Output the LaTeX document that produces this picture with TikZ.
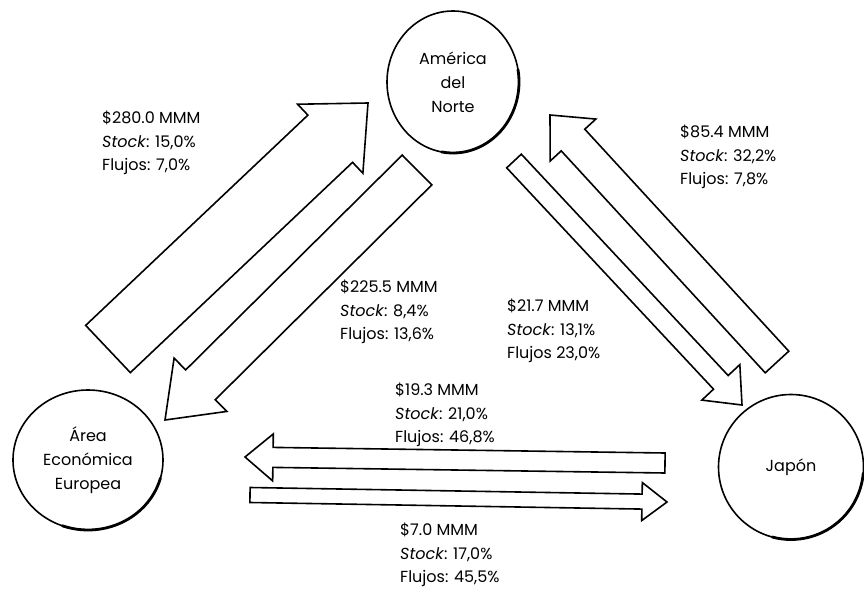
\documentclass[tikz,border=0pt]{standalone}
\usepackage{fontspec}
\setmainfont{Poppins}
\usetikzlibrary{calc, shapes.geometric}

\tikzset{
  region/.style={draw, ellipse, line width=1.6pt, inner sep=0pt, outer sep=0pt, align=center,
    font=\fontsize{16}{24}\selectfont},
  rim/.style={line width=2.8pt, line cap=round},
  flow/.style={draw, line width=1.6pt, line join=miter, fill=white},
  flowlabel/.style={anchor=north west, inner sep=0pt, align=left, font=\fontsize{16}{23.5}\selectfont}
}

% block arrow: #1 tail, #2 tip, #3 half shaft, #4 half head, #5 head length
\newcommand{\flowarrow}[5]{%
  \coordinate (#2-base) at ($(#2)!#5pt!(#1)$);
  \draw[flow] ($(#1)!#3pt!90:(#2)$) -- ($(#2-base)!#3pt!-90:(#1)$) -- ($(#2-base)!#4pt!-90:(#1)$)
    -- (#2) -- ($(#2-base)!#4pt!90:(#1)$) -- ($(#2-base)!#3pt!90:(#1)$) -- ($(#1)!#3pt!-90:(#2)$) -- cycle;
}

\begin{document}
\begin{tikzpicture}[x=1pt, y=-1pt]
\useasboundingbox (0,0) rectangle (864,591);
% Draw the three regions
\node[region, minimum width=132pt, minimum height=142pt] at (453,82) (na) {Am\'erica\\del\\Norte};
\node[region, minimum width=150pt, minimum height=140pt] at (88,460) (eu) {\'Area\\Econ\'omica\\Europea};
\node[region, minimum width=145pt, minimum height=145pt] at (791,467) (jp) {Jap\'on};
% Draw the heavy lower rims (y points down, so angles run clockwise)
\foreach \r/\rx/\ry/\a/\b in {na/66/71/100/-10, eu/75/70/110/15, jp/72.5/72.5/105/5} {
  \draw[rim] ($(\r.center)+({\a}:{\rx} and {\ry})$) arc[start angle=\a, end angle=\b, x radius=\rx, y radius=\ry];
}
% Ends of the flows (s = start, t = tip)
\coordinate (eu-na-s) at (108,349);  \coordinate (eu-na-t) at (368,103);
\coordinate (na-eu-s) at (417,170);  \coordinate (na-eu-t) at (165,420);
\coordinate (jp-na-s) at (777,362);  \coordinate (jp-na-t) at (550,115);
\coordinate (na-jp-s) at (514,161);  \coordinate (na-jp-t) at (742,405);
\coordinate (jp-eu-s) at (665,463);  \coordinate (jp-eu-t) at (245,457);
\coordinate (eu-jp-s) at (250,495);  \coordinate (eu-jp-t) at (667,502);
% Draw the block arrows
\foreach \f/\w/\h/\l in {eu-na/32.5/47.5/52, na-eu/21/37.5/50, jp-na/16/31/34,
    na-jp/10/26/31, jp-eu/10/23.5/28, eu-jp/7.5/19/25} {
  \flowarrow{\f-s}{\f-t}{\w}{\h}{\l}
}
% Draw the labels
\node[flowlabel] at (102,111) (eu-na-lbl) {\$280.0 MMM\\\textit{Stock}: 15,0\%\\Flujos: 7,0\%};
\node[flowlabel] at (340,280) (na-eu-lbl) {\$225.5 MMM\\\textit{Stock}: 8,4\%\\Flujos: 13,6\%};
\node[flowlabel] at (680,125) (jp-na-lbl) {\$85.4 MMM\\\textit{Stock}: 32,2\%\\Flujos: 7,8\%};
\node[flowlabel] at (507,299) (na-jp-lbl) {\$21.7 MMM\\\textit{Stock}: 13,1\%\\Flujos 23,0\%};
\node[flowlabel] at (395,383) (jp-eu-lbl) {\$19.3 MMM\\\textit{Stock}: 21,0\%\\Flujos: 46,8\%};
\node[flowlabel] at (400,523) (eu-jp-lbl) {\$7.0 MMM\\\textit{Stock}: 17,0\%\\Flujos: 45,5\%};
\end{tikzpicture}
\end{document}
